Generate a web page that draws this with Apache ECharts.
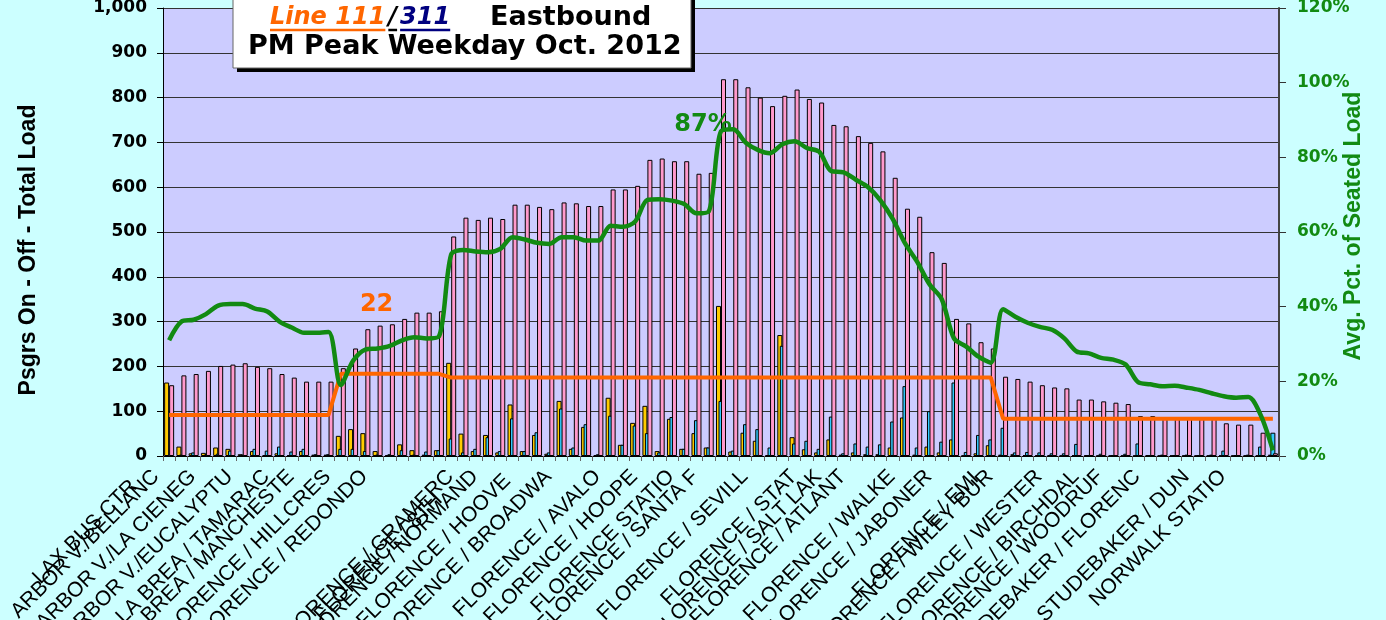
<!DOCTYPE html>
<html><head><meta charset="utf-8">
<script src="https://cdn.jsdelivr.net/npm/echarts@6/dist/echarts.min.js"></script>
<style>html,body{margin:0;padding:0;background:#ccffff;} #c{width:1386px;height:620px;}</style>
</head><body><div id="c"></div>
<script>
// ---- data ----
const stops = [
 'LAX BUS CTR','ARBOR V./BELLANC','','','ARBOR V./LA CIENEG','','','ARBOR V./EUCALYPTU','','',
 'LA BREA / TAMARAC','','LA BREA / MANCHESTE','','','FLORENCE / HILLCRES','','','FLORENCE / REDONDO','',
 '','','','','','FLORENCE / GRAMERC','FLORENCE / 8TH','FLORENCE / NORMAND','','',
 'FLORENCE / HOOVE','','','FLORENCE / BROADWA','','','','FLORENCE / AVALO','','',
 'FLORENCE / HOOPE','','','FLORENCE STATIO','','FLORENCE / SANTA F','','','','FLORENCE / SEVILL',
 '','','','FLORENCE / STAT','','FLORENCE / SALT LAK','','FLORENCE / ATLANT','','',
 '','FLORENCE / WALKE','','','FLORENCE / JABONER','','','','FLORENCE / EMI','FLORENCE / WILEY BUR',
 '','','','FLORENCE / WESTER','','','FLORENCE / BIRCHDAL','','FLORENCE / WOODRUF','',
 '','STUDEBAKER / FLORENC','','','','STUDEBAKER / DUN','','','NORWALK STATIO','',
 ''
];
const ons = [
 164,21,6,7,19,16,4,11,2,6, 2,11,3,3,45,60,51,11,2,26, 13,3,13,208,50,11,47,8,115,11,
 47,5,123,16,65,2,130,25,74,112, 11,83,16,51,19,335,10,52,34,2, 270,42,15,8,37,3,8,4,4,19,
 86,3,21,8,37,1,6,24,3,4, 2,2,2,1,2,2,1,1,1,1, 2,1,1,1,1,1,1,1,1,1, 3
];
const offs = [
 0,3,8,3,5,12,3,16,12,21, 10,16,4,4,16,16,11,3,4,13, 3,10,13,39,8,16,42,11,84,11,
 53,8,106,19,71,4,90,25,68,51, 8,87,16,80,19,123,12,71,60,19, 246,28,34,16,88,6,28,21,26,77,
 156,19,100,32,164,9,47,37,63,8, 9,8,6,6,27,2,5,1,5,28, 2,3,2,3,2,3,12,2,3,21, 52
];
const load = [
 158,180,183,190,201,204,207,199,196,183, 175,166,166,166,196,240,283,291,294,306, 320,320,323,490,532,527,532,529,561,561,
 556,551,566,564,558,558,595,595,603,661, 664,658,658,630,632,841,841,823,800,781, 804,818,797,789,739,736,714,699,680,621,
 552,534,455,431,306,296,254,240,177,172, 166,158,153,151,126,126,122,119,116,89, 89,86,86,87,86,86,73,70,70,52, 6
];
const pctSeated = [
 31,36,36.5,38,40.3,40.7,40.7,39.5,38.7,36, 34.4,33,33,33.2,19,25.5,28.5,28.8,29.5,31, 31.8,31.5,32,54,55.2,54.8,54.6,55.5,58.6,58,
 57.1,56.8,58.6,58.6,57.7,57.7,61.7,61.4,62.8,68.6, 68.8,68.4,67.5,65,65.5,87,87.5,84,82,81.1, 83.5,84.3,82.5,81.5,76.3,76,74,72,68.5,63.5,
 57,52,46,42,31.5,29.3,26.6,25,39.3,37.3, 35.7,34.6,33.8,31.5,28,27.5,26.3,25.8,24.5,19.8, 19.2,18.7,18.8,18.3,17.7,16.8,16,15.6,15.8,11, 1.5
];
const trips = [
 11,11,11,11,11,11,11,11,11,11, 11,11,11,11,22,22,22,22,22,22, 22,22,22,21,21,21,21,21,21,21,
 21,21,21,21,21,21,21,21,21,21, 21,21,21,21,21,21,21,21,21,21, 21,21,21,21,21,21,21,21,21,21,
 21,21,21,21,21,21,21,21,10,10, 10,10,10,10,10,10,10,10,10,10, 10,10,10,10,10,10,10,10,10,10, 10
];
const tripsLabelAt = 17;
const peakLabelAt = 45;

// ---- styling ----
const GREEN = '#128a12', ORANGE = '#ff6600';
const BASE_PAD = 36;
const extraPad = {'LAX BUS CTR': 14, 'FLORENCE / 8TH': 33, 'FLORENCE / HOOVE': 6, 'FLORENCE / EMI': 3};
const labelFont = {fontSize: 21, fontFamily: 'Liberation Sans', color: '#000'};
const rich = {b: Object.assign({}, labelFont, {padding: [0, BASE_PAD, 0, 0]})};
Object.values(extraPad).forEach(e => { rich['e' + e] = Object.assign({}, labelFont, {padding: [0, BASE_PAD + e, 0, 0]}); });

const ctx = document.createElement('canvas').getContext('2d');
function tw(t, f) { ctx.font = f; return ctx.measureText(t).width; }
const fItal = 'italic bold 24px "DejaVu Sans"';
const fBold = 'bold 27px "DejaVu Sans"';
const x1 = 270, w1 = tw('Line 111', fItal);
const x2 = x1 + w1 + 3, w2 = tw('/', fItal);
const x3 = x2 + w2 + 3, w3 = tw('311', fItal);
const x4 = 490;
const yL1 = 18, yL2 = 47, yU = 30;

const chart = echarts.init(document.getElementById('c'), null, {renderer: 'canvas', width: 1386, height: 620});
chart.setOption({
  animation: false,
  backgroundColor: '#ccffff',
  grid: {left: 163, right: 107, top: 8, bottom: 164, show: true, backgroundColor: '#ccccff', borderWidth: 0, outerBoundsMode: 'none'},
  xAxis: {
    type: 'category', data: stops, boundaryGap: true,
    axisLine: {show: true, lineStyle: {color: '#000', width: 1}},
    axisTick: {show: true, interval: 0, length: 5, lineStyle: {color: '#666'}},
    axisLabel: {
      interval: 0, rotate: 45, margin: -8, fontSize: 21, fontFamily: 'Liberation Sans', color: '#000',
      formatter: v => v ? '{' + (extraPad[v] ? 'e' + extraPad[v] : 'b') + '|' + v + '}' : '',
      rich: rich
    },
    splitLine: {show: false}
  },
  yAxis: [{
    type: 'value', min: 0, max: 1000, interval: 100, position: 'left',
    axisLine: {show: true, lineStyle: {color: '#000', width: 1}},
    axisTick: {show: true, length: 6, lineStyle: {color: '#000'}},
    axisLabel: {color: '#000', fontWeight: 'bold', fontFamily: 'DejaVu Sans', fontSize: 17, margin: 16,
      formatter: v => v.toLocaleString('en-US')},
    splitLine: {show: true, lineStyle: {color: '#333', width: 1}},
    name: 'Psgrs On - Off - Total Load', nameLocation: 'middle', nameRotate: 90, nameGap: 123, nameMoveOverlap: false,
    nameTextStyle: {color: '#000', fontWeight: 'bold', fontSize: 23, fontFamily: 'Liberation Sans', padding: [0, 36, 0, 0]}
  }, {
    type: 'value', min: 0, max: 120, interval: 20, position: 'right',
    axisLine: {show: true, lineStyle: {color: '#444', width: 2}},
    axisTick: {show: true, length: 7, lineStyle: {color: '#333'}},
    axisLabel: {color: GREEN, fontWeight: 'bold', fontFamily: 'DejaVu Sans', fontSize: 17, margin: 18, formatter: '{value}%'},
    splitLine: {show: false},
    name: 'Avg. Pct. of Seated Load', nameLocation: 'middle', nameRotate: 90, nameGap: 63, nameMoveOverlap: false,
    nameTextStyle: {color: GREEN, fontWeight: 'bold', fontSize: 23, fontFamily: 'Liberation Sans', padding: [0, 0, 0, 12]}
  }],
  series: [
    {name: 'On', type: 'bar', data: ons, barWidth: 5, barGap: '-50%',
     itemStyle: {color: '#ffcc00', borderColor: '#000', borderWidth: 1}},
    {name: 'Off', type: 'bar', data: offs, barWidth: 5, barGap: '-50%',
     itemStyle: {color: '#33ccff', borderColor: '#000', borderWidth: 1}},
    {name: 'Load', type: 'bar', data: load, barWidth: 5, barGap: '-50%',
     itemStyle: {color: '#ff99cc', borderColor: '#000', borderWidth: 1}},
    {name: 'Trips', type: 'line', yAxisIndex: 1, smooth: false, showSymbol: true, showAllSymbol: true, symbolSize: 0,
     lineStyle: {color: ORANGE, width: 4}, itemStyle: {color: ORANGE}, z: 4,
     data: trips.map((v, i) => i === tripsLabelAt ? {value: v, label: {show: true, position: 'top', offset: [-1, -52],
       formatter: '{c}', color: ORANGE, fontWeight: 'bold', fontSize: 24, fontFamily: 'DejaVu Sans'}} : v)},
    {name: 'Seated', type: 'line', yAxisIndex: 1, smooth: 0.3, showSymbol: true, showAllSymbol: true, symbolSize: 0,
     lineStyle: {color: GREEN, width: 4.5}, itemStyle: {color: GREEN}, z: 5,
     data: pctSeated.map((v, i) => i === peakLabelAt ? {value: v, label: {show: true, position: 'top', offset: [-18, 11],
       formatter: '{c}%', color: GREEN, fontWeight: 'bold', fontSize: 24, fontFamily: 'DejaVu Sans'}} : v)}
  ],
  graphic: {elements: [
    {type: 'rect', z: 100, shape: {x: 237, y: -10, width: 458, height: 82}, style: {fill: '#000'}},
    {type: 'rect', z: 101, shape: {x: 233, y: -10, width: 458, height: 78}, style: {fill: '#fff', stroke: '#666', lineWidth: 1}},
    {type: 'text', z: 102, x: x1, y: yL1, style: {text: 'Line 111', font: fItal, fill: ORANGE, align: 'left', verticalAlign: 'middle'}},
    {type: 'text', z: 102, x: x2, y: yL1, style: {text: '/', font: fItal, fill: '#000', align: 'left', verticalAlign: 'middle'}},
    {type: 'text', z: 102, x: x3, y: yL1, style: {text: '311', font: fItal, fill: '#000080', align: 'left', verticalAlign: 'middle'}},
    {type: 'text', z: 102, x: x4, y: yL1, style: {text: 'Eastbound', font: fBold, fill: '#000', align: 'left', verticalAlign: 'middle'}},
    {type: 'text', z: 102, x: 248, y: yL2, style: {text: 'PM Peak Weekday Oct. 2012', font: fBold, fill: '#000', align: 'left', verticalAlign: 'middle'}},
    {type: 'line', z: 102, shape: {x1: x1, y1: yU, x2: x1 + w1, y2: yU}, style: {stroke: ORANGE, lineWidth: 2.5}},
    {type: 'line', z: 102, shape: {x1: x2, y1: yU, x2: x2 + w2, y2: yU}, style: {stroke: '#000', lineWidth: 2.5}},
    {type: 'line', z: 102, shape: {x1: x3, y1: yU, x2: x3 + w3, y2: yU}, style: {stroke: '#000080', lineWidth: 2.5}}
  ]}
});
</script></body></html>
